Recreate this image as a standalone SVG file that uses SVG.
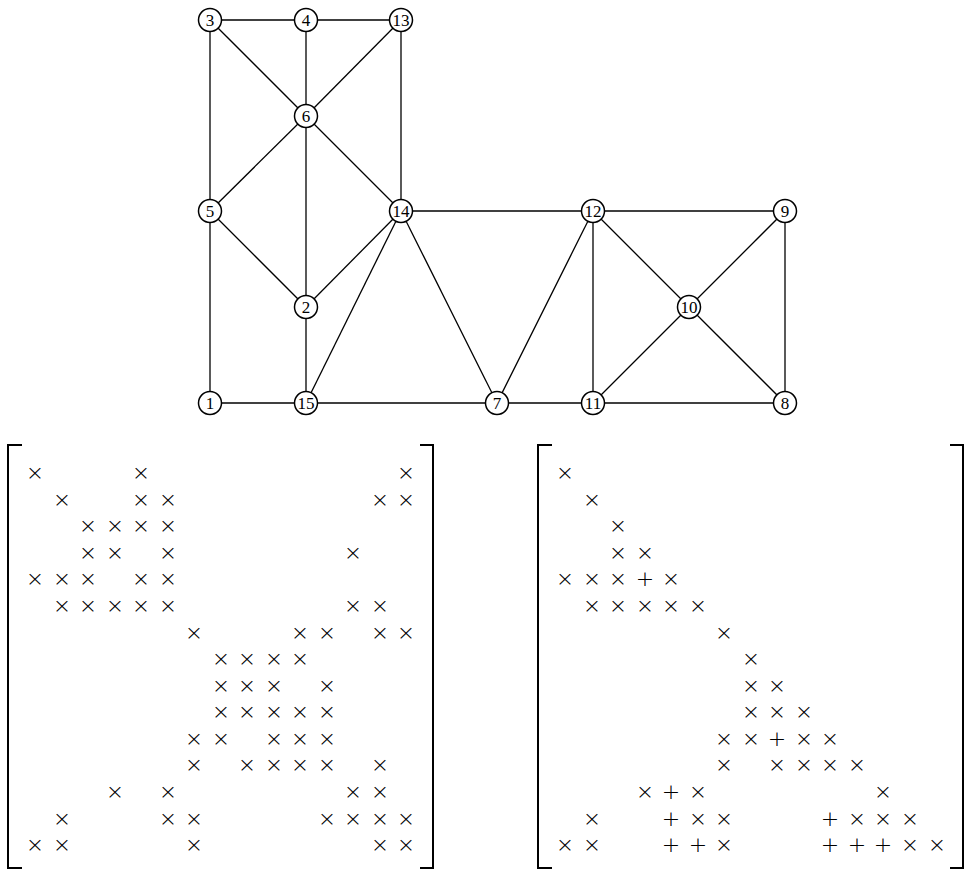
<svg xmlns="http://www.w3.org/2000/svg" width="965" height="872" viewBox="0 0 965 872">
<style>
.e{stroke:#000;stroke-width:1.3;fill:none}
.n circle{fill:#fff;stroke:#000;stroke-width:1.5}
.n text{font-family:"Liberation Serif",serif;font-size:17px;text-anchor:middle;dominant-baseline:central}
.m text{font-family:"DejaVu Sans",sans-serif;font-weight:200;font-size:22px;text-anchor:middle;dominant-baseline:central}
.b{stroke:#000;stroke-width:2;fill:none}
</style>
<rect width="965" height="872" fill="#fff"/>
<g id="edges">
<line class="e" x1="210" y1="20" x2="306" y2="20"/>
<line class="e" x1="306" y1="20" x2="401" y2="20"/>
<line class="e" x1="210" y1="20" x2="210" y2="211"/>
<line class="e" x1="210" y1="20" x2="306" y2="116"/>
<line class="e" x1="306" y1="20" x2="306" y2="116"/>
<line class="e" x1="401" y1="20" x2="306" y2="116"/>
<line class="e" x1="401" y1="20" x2="401" y2="211"/>
<line class="e" x1="306" y1="116" x2="210" y2="211"/>
<line class="e" x1="306" y1="116" x2="401" y2="211"/>
<line class="e" x1="306" y1="116" x2="306" y2="307"/>
<line class="e" x1="210" y1="211" x2="306" y2="307"/>
<line class="e" x1="210" y1="211" x2="210" y2="403"/>
<line class="e" x1="306" y1="307" x2="401" y2="211"/>
<line class="e" x1="306" y1="307" x2="306" y2="403"/>
<line class="e" x1="401" y1="211" x2="306" y2="403"/>
<line class="e" x1="401" y1="211" x2="593" y2="211"/>
<line class="e" x1="401" y1="211" x2="497" y2="403"/>
<line class="e" x1="593" y1="211" x2="785" y2="211"/>
<line class="e" x1="593" y1="211" x2="497" y2="403"/>
<line class="e" x1="593" y1="211" x2="593" y2="403"/>
<line class="e" x1="593" y1="211" x2="689" y2="307"/>
<line class="e" x1="785" y1="211" x2="689" y2="307"/>
<line class="e" x1="785" y1="211" x2="785" y2="403"/>
<line class="e" x1="689" y1="307" x2="593" y2="403"/>
<line class="e" x1="689" y1="307" x2="785" y2="403"/>
<line class="e" x1="210" y1="403" x2="306" y2="403"/>
<line class="e" x1="306" y1="403" x2="497" y2="403"/>
<line class="e" x1="497" y1="403" x2="593" y2="403"/>
<line class="e" x1="593" y1="403" x2="785" y2="403"/>
</g>
<g id="n3" class="n"><circle cx="210" cy="20" r="11.5"/><text x="210" y="20">3</text></g>
<g id="n4" class="n"><circle cx="306" cy="20" r="11.5"/><text x="306" y="20">4</text></g>
<g id="n13" class="n"><circle cx="401" cy="20" r="11.5"/><text x="401" y="20">13</text></g>
<g id="n6" class="n"><circle cx="306" cy="116" r="11.5"/><text x="306" y="116">6</text></g>
<g id="n5" class="n"><circle cx="210" cy="211" r="11.5"/><text x="210" y="211">5</text></g>
<g id="n14" class="n"><circle cx="401" cy="211" r="11.5"/><text x="401" y="211">14</text></g>
<g id="n12" class="n"><circle cx="593" cy="211" r="11.5"/><text x="593" y="211">12</text></g>
<g id="n9" class="n"><circle cx="785" cy="211" r="11.5"/><text x="785" y="211">9</text></g>
<g id="n2" class="n"><circle cx="306" cy="307" r="11.5"/><text x="306" y="307">2</text></g>
<g id="n10" class="n"><circle cx="689" cy="307" r="11.5"/><text x="689" y="307">10</text></g>
<g id="n1" class="n"><circle cx="210" cy="403" r="11.5"/><text x="210" y="403">1</text></g>
<g id="n15" class="n"><circle cx="306" cy="403" r="11.5"/><text x="306" y="403">15</text></g>
<g id="n7" class="n"><circle cx="497" cy="403" r="11.5"/><text x="497" y="403">7</text></g>
<g id="n11" class="n"><circle cx="593" cy="403" r="11.5"/><text x="593" y="403">11</text></g>
<g id="n8" class="n"><circle cx="785" cy="403" r="11.5"/><text x="785" y="403">8</text></g>
<g id="matrixA" class="m">
<path class="b" d="M22,445 H8 V868 H22"/>
<path class="b" d="M420,445 H433 V868 H420"/>
<text x="35" y="472">×</text><text x="141" y="472">×</text><text x="406" y="472">×</text>
<text x="62" y="499">×</text><text x="141" y="499">×</text><text x="168" y="499">×</text><text x="380" y="499">×</text><text x="406" y="499">×</text>
<text x="88" y="525">×</text><text x="115" y="525">×</text><text x="141" y="525">×</text><text x="168" y="525">×</text>
<text x="88" y="552">×</text><text x="115" y="552">×</text><text x="168" y="552">×</text><text x="353" y="552">×</text>
<text x="35" y="578">×</text><text x="62" y="578">×</text><text x="88" y="578">×</text><text x="141" y="578">×</text><text x="168" y="578">×</text>
<text x="62" y="605">×</text><text x="88" y="605">×</text><text x="115" y="605">×</text><text x="141" y="605">×</text><text x="168" y="605">×</text><text x="353" y="605">×</text><text x="380" y="605">×</text>
<text x="194" y="632">×</text><text x="300" y="632">×</text><text x="327" y="632">×</text><text x="380" y="632">×</text><text x="406" y="632">×</text>
<text x="221" y="658">×</text><text x="247" y="658">×</text><text x="274" y="658">×</text><text x="300" y="658">×</text>
<text x="221" y="685">×</text><text x="247" y="685">×</text><text x="274" y="685">×</text><text x="327" y="685">×</text>
<text x="221" y="711">×</text><text x="247" y="711">×</text><text x="274" y="711">×</text><text x="300" y="711">×</text><text x="327" y="711">×</text>
<text x="194" y="738">×</text><text x="221" y="738">×</text><text x="274" y="738">×</text><text x="300" y="738">×</text><text x="327" y="738">×</text>
<text x="194" y="764">×</text><text x="247" y="764">×</text><text x="274" y="764">×</text><text x="300" y="764">×</text><text x="327" y="764">×</text><text x="380" y="764">×</text>
<text x="115" y="791">×</text><text x="168" y="791">×</text><text x="353" y="791">×</text><text x="380" y="791">×</text>
<text x="62" y="818">×</text><text x="168" y="818">×</text><text x="194" y="818">×</text><text x="327" y="818">×</text><text x="353" y="818">×</text><text x="380" y="818">×</text><text x="406" y="818">×</text>
<text x="35" y="844">×</text><text x="62" y="844">×</text><text x="194" y="844">×</text><text x="380" y="844">×</text><text x="406" y="844">×</text>
</g>
<g id="matrixL" class="m">
<path class="b" d="M552,445 H538 V868 H552"/>
<path class="b" d="M950,445 H963 V868 H950"/>
<text x="565" y="472">×</text>
<text x="592" y="499">×</text>
<text x="618" y="525">×</text>
<text x="618" y="552">×</text><text x="645" y="552">×</text>
<text x="565" y="578">×</text><text x="592" y="578">×</text><text x="618" y="578">×</text><text x="645" y="578">+</text><text x="671" y="578">×</text>
<text x="592" y="605">×</text><text x="618" y="605">×</text><text x="645" y="605">×</text><text x="671" y="605">×</text><text x="698" y="605">×</text>
<text x="724" y="632">×</text>
<text x="751" y="658">×</text>
<text x="751" y="685">×</text><text x="777" y="685">×</text>
<text x="751" y="711">×</text><text x="777" y="711">×</text><text x="804" y="711">×</text>
<text x="724" y="738">×</text><text x="751" y="738">×</text><text x="777" y="738">+</text><text x="804" y="738">×</text><text x="830" y="738">×</text>
<text x="724" y="764">×</text><text x="777" y="764">×</text><text x="804" y="764">×</text><text x="830" y="764">×</text><text x="857" y="764">×</text>
<text x="645" y="791">×</text><text x="671" y="791">+</text><text x="698" y="791">×</text><text x="883" y="791">×</text>
<text x="592" y="818">×</text><text x="671" y="818">+</text><text x="698" y="818">×</text><text x="724" y="818">×</text><text x="830" y="818">+</text><text x="857" y="818">×</text><text x="883" y="818">×</text><text x="910" y="818">×</text>
<text x="565" y="844">×</text><text x="592" y="844">×</text><text x="671" y="844">+</text><text x="698" y="844">+</text><text x="724" y="844">×</text><text x="830" y="844">+</text><text x="857" y="844">+</text><text x="883" y="844">+</text><text x="910" y="844">×</text><text x="937" y="844">×</text>
</g>
</svg>
